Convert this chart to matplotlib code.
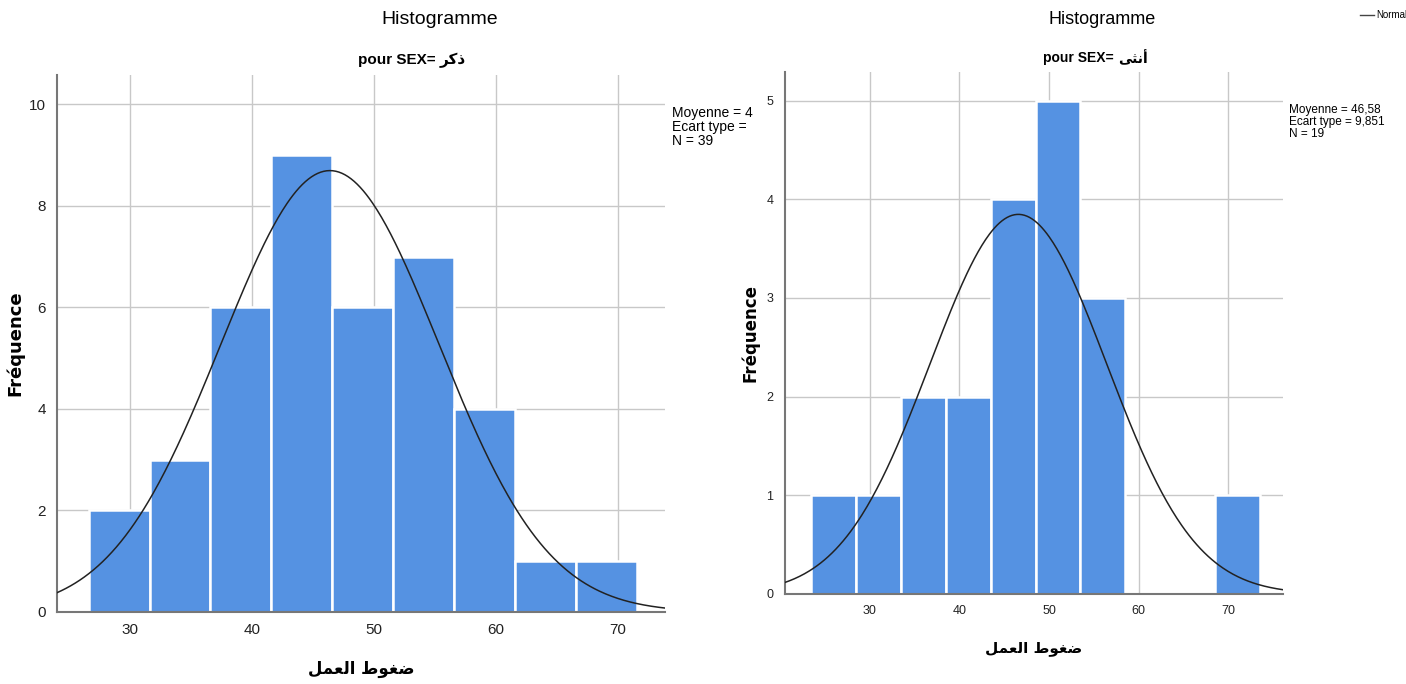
import numpy as np
import matplotlib.pyplot as plt

# ---------------- data ----------------
# Arabic strings written in visual order with presentation forms,
# because matplotlib does no Arabic shaping
XLABEL = "\uFEDE\uFEE4\uFECC\uFEDF\uFE8D \uFEC1\uFEEE\uFED0\uFEBF"   # ضغوط العمل
MALE = "\uFEAE\uFEDB\uFEAB"                                         # ذكر
FEMALE = "\uFEF0\uFE9C\uFEE7\uFE83"                                 # أنثى

male_edges = [26.6, 31.6, 36.6, 41.6, 46.6, 51.6, 56.6, 61.6, 66.6, 71.6]
male_counts = [2, 3, 6, 9, 6, 7, 4, 1, 1]
male_mean = 46.4
male_sd = 8.95
male_n = 39
male_stats = ["Moyenne = 4", "Ecart type =", "N = 39"]

female_edges = [23.5, 28.5, 33.5, 38.5, 43.5, 48.5, 53.5, 58.5, 63.5, 68.5, 73.5]
female_counts = [1, 1, 2, 2, 4, 5, 3, 0, 0, 1]
female_mean = 46.58
female_sd = 9.851
female_n = 19
female_stats = ["Moyenne = 46,58", "Ecart type = 9,851", "N = 19"]

x_ticks = [30, 40, 50, 60, 70]

BAR = "#5592E2"
FONT = ["Liberation Sans Narrow", "Liberation Sans", "DejaVu Sans"]
AR_FONT = ["DejaVu Sans"]

plt.rcParams["font.family"] = FONT

fig = plt.figure(figsize=(14.06, 6.84), dpi=100)


def draw_panel(ax, edges, counts, mean, sd, n, xlim, ylim, yticks):
    widths = np.diff(edges)
    ax.bar(edges[:-1], counts, width=widths, align="edge", color=BAR,
           edgecolor="white", linewidth=1.8, zorder=2)
    xs = np.linspace(xlim[0], xlim[1], 400)
    w = widths[0]
    ys = n * w / (sd * np.sqrt(2 * np.pi)) * np.exp(-0.5 * ((xs - mean) / sd) ** 2)
    ax.plot(xs, ys, color="#222222", linewidth=1.1, zorder=3)

    ax.set_xlim(*xlim)
    ax.set_ylim(*ylim)
    ax.set_xticks(x_ticks)
    ax.set_yticks(yticks)
    ax.grid(True, color="#c8c8c8", linewidth=1.0, zorder=0)
    ax.set_axisbelow(True)
    for s in ["top", "right"]:
        ax.spines[s].set_visible(False)
    for s in ["left", "bottom"]:
        ax.spines[s].set_color("#777777")
        ax.spines[s].set_linewidth(1.5)
    ax.tick_params(length=0, labelsize=11, pad=8, colors="#222222")


# ---------------- left panel (male) ----------------
ax1 = fig.add_axes([0.0405, 0.1053, 0.4325, 0.7847])
draw_panel(ax1, male_edges, male_counts, male_mean, male_sd, male_n,
           (24.0, 73.9), (0, 10.57), [0, 2, 4, 6, 8, 10])
ax1.set_ylabel("Fréquence", fontsize=13, fontweight="bold", family="DejaVu Sans")
ax1.yaxis.set_label_coords(-0.053, 0.5)
ax1.set_xlabel(XLABEL, fontsize=12, fontweight="bold", family=AR_FONT)
ax1.xaxis.set_label_coords(0.5, -0.09)

fig.text(0.313, 0.972, "Histogramme", ha="center", va="center", fontsize=14)
fig.text(0.313, 0.912, "pour SEX= ", ha="right", va="center", fontsize=11,
         fontweight="bold")
fig.text(0.313, 0.912, MALE, ha="left", va="center", fontsize=11,
         fontweight="bold", family=AR_FONT)
fig.text(0.478, 0.845, "\n".join(male_stats), ha="left", va="top",
         fontsize=10, linespacing=1.0)

# ---------------- right panel (female) ----------------
ax2 = fig.add_axes([0.558, 0.1316, 0.3545, 0.7631])
draw_panel(ax2, female_edges, female_counts, female_mean, female_sd, female_n,
           (20.5, 76.1), (0, 5.29), [0, 1, 2, 3, 4, 5])
ax2.set_ylabel("Fréquence", fontsize=12, fontweight="bold", family="DejaVu Sans")
ax2.yaxis.set_label_coords(-0.05, 0.5)
ax2.set_xlabel(XLABEL, fontsize=11, fontweight="bold", family=AR_FONT)
ax2.xaxis.set_label_coords(0.5, -0.09)
ax2.tick_params(labelsize=9)

fig.text(0.784, 0.972, "Histogramme", ha="center", va="center", fontsize=13)
fig.text(0.795, 0.915, "pour SEX= ", ha="right", va="center", fontsize=10,
         fontweight="bold")
fig.text(0.795, 0.915, FEMALE, ha="left", va="center", fontsize=10,
         fontweight="bold", family=AR_FONT)
fig.text(0.917, 0.848, "\n".join(female_stats), ha="left", va="top",
         fontsize=8.5, linespacing=1.0)

# legend "Normal"
fig.lines.append(plt.Line2D([0.967, 0.977], [0.978, 0.978], color="#444444",
                            linewidth=1.0, transform=fig.transFigure))
fig.text(0.979, 0.978, "Normal", ha="left", va="center", fontsize=7)

fig.savefig("out.png", dpi=100)
